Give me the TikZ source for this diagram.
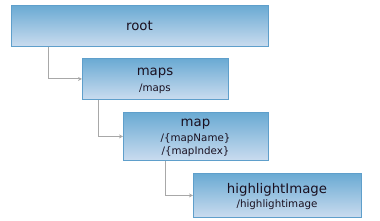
\documentclass[tikz,border=0pt]{standalone}
\usepackage{fontspec}
\setmainfont{DejaVu Sans}
\usetikzlibrary{arrows.meta,calc}
\definecolor{boxtop}{HTML}{6AAAD3}
\definecolor{boxbot}{HTML}{CADCEF}
\definecolor{boxline}{HTML}{5F9FCB}
\definecolor{conn}{HTML}{A8A8A8}
\definecolor{txt}{HTML}{1A1020}
\tikzset{
  res/.style={draw=boxline, line width=0.8pt, top color=boxtop, bottom color=boxbot, anchor=north west, inner sep=0pt, text=txt, align=center},
  ttl/.style={font=\fontsize{13.3}{14}\selectfont, text=txt},
  sub/.style={font=\fontsize{10.3}{11}\selectfont, text=txt},
  link/.style={draw=conn, line width=0.9pt, -{Stealth[length=4pt,width=4pt]}}
}
\begin{document}
\begin{tikzpicture}[x=1pt,y=-1pt]
\useasboundingbox (0,0) rectangle (380,220);
\node[res, minimum width=257pt, minimum height=41pt] (root) at (11,5) {};
\node[res, minimum width=146pt, minimum height=41pt] (maps) at (82,58) {};
\node[res, minimum width=145pt, minimum height=48pt] (map) at (123,112) {};
\node[res, minimum width=168pt, minimum height=44pt] (hi) at (193,173) {};
\node[ttl] (rootT) at (139.5,26) {root};
\node[ttl] (mapsT) at (155,73.5) {maps};
\node[sub] (mapsS) at (155,89) {/maps};
\node[ttl] (mapT) at (195.5,124) {map};
\node[sub] (mapS1) at (195.5,139) {/\{mapName\}};
\node[sub] (mapS2) at (195.5,152) {/\{mapIndex\}};
\node[ttl] (hiT) at (277,189.5) {highlightImage};
\node[sub] (hiS) at (277,204.5) {/highlightimage};
\draw[link] ($(root.south west)+(37,0)$) |- (maps.west);
\draw[link] ($(maps.south west)+(16,0)$) |- ($(map.north west)!0.5!(map.south west)$);
\draw[link] ($(map.south west)+(42,0)$) |- (hi.west);
\end{tikzpicture}
\end{document}
